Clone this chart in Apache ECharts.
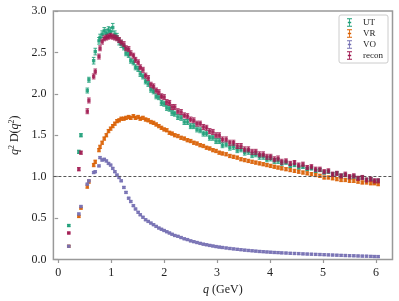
<!DOCTYPE html>
<html><head><meta charset="utf-8">
<script src="https://cdn.jsdelivr.net/npm/echarts@6/dist/echarts.min.js"></script>
<style>html,body{margin:0;padding:0;background:#fff}#c{width:399px;height:301px}</style>
</head><body><div id="c"></div>
<script>
const q = [0.20,0.39,0.43,0.55,0.58,0.67,0.70,0.77,0.79,0.83,0.87,0.91,0.95,0.99,
1.03,1.07,1.11,1.15,1.19,1.24,1.28,1.33,1.37,1.42,1.46,1.51,1.55,
1.60,1.65,1.70,1.75,1.80,1.85,1.90,1.95,2.00,2.05,2.10,2.15,2.20,
2.26,2.32,2.38,2.44,2.50,2.56,2.62,2.68,2.74,2.80,2.86,2.92,2.98,3.04,3.10,
3.17,3.24,3.31,3.38,3.45,3.52,3.59,3.66,3.73,3.80,3.87,3.94,4.01,4.08,4.15,4.22,
4.30,4.38,4.46,4.54,4.62,4.70,4.78,4.86,4.94,5.02,5.10,5.18,5.26,5.34,5.42,5.50,5.58,5.66,5.74,5.82,5.90,
5.97,6.04];

const utVals = [0.41,1.30,1.50,2.04,2.17,2.40,2.51,2.64,2.68,2.72,2.76,2.73,2.77,2.75,
2.80,2.72,2.69,2.63,2.60,2.56,2.49,2.47,2.40,2.38,2.32,2.30,2.24,
2.21,2.15,2.12,2.05,2.03,1.97,1.96,1.89,1.88,1.83,1.82,1.77,1.76,
1.72,1.71,1.66,1.66,1.61,1.61,1.57,1.56,1.52,1.52,1.47,1.47,1.43,1.43,1.38,
1.39,1.35,1.36,1.32,1.33,1.29,1.30,1.26,1.27,1.24,1.24,1.21,1.22,1.19,1.19,1.16,
1.17,1.13,1.14,1.11,1.12,1.09,1.10,1.07,1.08,1.05,1.06,1.03,1.04,1.01,1.02,0.99,1.00,0.98,0.99,0.96,0.97,
0.94,0.95];
const utErr = [0.01,0.02,0.02,0.03,0.03,0.04,0.04,0.04,0.04,0.04,0.04,0.05,0.04,0.05,
0.05,0.04,0.04,0.04,0.04,0.03,0.03,0.03,0.03,0.03,0.03,0.03,0.03,
0.03,0.03,0.03,0.03,0.03,0.03,0.03,0.03,0.03,0.03,0.03,0.03,0.03,
0.03,0.03,0.03,0.03,0.03,0.03,0.03,0.03,0.03,0.03,0.03,0.03,0.03,0.03,0.03,
0.03,0.03,0.03,0.03,0.03,0.03,0.03,0.03,0.03,0.03,0.03,0.03,0.03,0.03,0.03,0.03,
0.02,0.02,0.02,0.02,0.02,0.02,0.02,0.02,0.02,0.02,0.02,0.02,0.02,0.02,0.02,0.02,0.02,0.02,0.02,0.02,0.02,
0.02,0.02];

const vrVals = [0.16,0.52,0.62,0.88,0.94,1.14,1.18,1.32,1.36,1.41,1.46,1.50,1.55,1.58,
1.61,1.64,1.67,1.68,1.70,1.70,1.71,1.72,1.71,1.73,1.71,1.72,1.70,
1.71,1.69,1.68,1.66,1.65,1.63,1.61,1.59,1.57,1.56,1.53,1.52,1.50,
1.49,1.47,1.46,1.44,1.43,1.41,1.40,1.38,1.37,1.35,1.34,1.32,1.31,1.29,1.28,
1.27,1.25,1.24,1.23,1.21,1.20,1.19,1.18,1.17,1.16,1.15,1.14,1.13,1.12,1.11,1.10,
1.09,1.08,1.07,1.06,1.05,1.04,1.03,1.02,1.01,0.99,0.99,0.98,0.97,0.96,0.96,0.95,0.95,0.94,0.93,0.93,0.92,
0.92,0.91];
const vrErr = [0.01,0.01,0.01,0.02,0.02,0.02,0.02,0.02,0.02,0.02,0.02,0.02,0.02,0.02,
0.02,0.02,0.02,0.02,0.02,0.02,0.02,0.02,0.02,0.02,0.02,0.02,0.02,
0.02,0.02,0.02,0.02,0.02,0.02,0.02,0.02,0.02,0.02,0.02,0.02,0.02,
0.02,0.02,0.02,0.02,0.02,0.02,0.02,0.02,0.02,0.02,0.02,0.02,0.02,0.02,0.02,
0.02,0.02,0.02,0.02,0.02,0.02,0.02,0.02,0.02,0.02,0.02,0.02,0.02,0.02,0.02,0.02,
0.02,0.02,0.02,0.02,0.02,0.02,0.02,0.02,0.02,0.02,0.02,0.02,0.02,0.02,0.02,0.02,0.02,0.02,0.02,0.02,0.02,
0.02,0.02];

const voVals = [0.16,0.55,0.64,0.91,0.95,1.05,1.06,1.13,1.23,1.20,1.21,1.19,1.16,1.14,
1.10,1.06,1.02,0.99,0.95,0.87,0.81,0.74,0.70,0.65,0.61,0.57,0.54,
0.51,0.48,0.46,0.44,0.42,0.40,0.38,0.365,0.35,0.335,0.32,0.305,0.29,
0.28,0.265,0.25,0.24,0.225,0.215,0.205,0.195,0.185,0.178,0.170,0.163,0.156,0.150,0.145,
0.139,0.133,0.128,0.123,0.118,0.113,0.109,0.105,0.101,0.097,0.094,0.091,0.088,0.085,0.083,0.080,
0.078,0.075,0.073,0.071,0.068,0.066,0.064,0.062,0.060,0.058,0.056,0.054,0.052,0.050,0.048,0.046,0.045,0.043,0.041,0.040,0.038,
0.036,0.035];
const voErr = [0.01,0.01,0.01,0.01,0.01,0.01,0.01,0.01,0.01,0.01,0.01,0.01,0.01,0.01,
0.01,0.01,0.01,0.01,0.01,0.01,0.01,0.01,0.01,0.01,0.01,0.01,0.01,
0.01,0.01,0.01,0.01,0.01,0.01,0.01,0.01,0.01,0.01,0.01,0.01,0.01,
0.01,0.01,0.01,0.01,0.01,0.01,0.01,0.01,0.01,0.01,0.01,0.01,0.01,0.01,0.01,
0.01,0.01,0.01,0.01,0.01,0.01,0.01,0.01,0.01,0.01,0.01,0.01,0.01,0.01,0.01,0.01,
0.01,0.01,0.01,0.01,0.01,0.01,0.01,0.01,0.01,0.01,0.01,0.01,0.01,0.01,0.01,0.01,0.01,0.01,0.01,0.01,0.01,
0.01,0.01];

const reconVals = [0.32,1.09,1.29,1.79,1.92,2.21,2.27,2.45,2.55,2.63,2.67,2.68,2.69,2.70,
2.69,2.68,2.67,2.65,2.62,2.60,2.55,2.54,2.49,2.46,2.41,2.38,2.32,
2.29,2.22,2.19,2.11,2.09,2.04,2.02,1.97,1.96,1.90,1.89,1.84,1.84,
1.79,1.78,1.74,1.73,1.69,1.68,1.64,1.64,1.60,1.59,1.55,1.54,1.50,1.50,1.45,
1.45,1.41,1.41,1.37,1.37,1.33,1.33,1.30,1.30,1.27,1.27,1.24,1.24,1.21,1.22,1.18,
1.19,1.16,1.17,1.14,1.15,1.11,1.12,1.09,1.09,1.06,1.07,1.03,1.04,1.01,1.03,1.00,1.01,0.98,0.99,0.96,0.97,
0.95,0.95];
const reconErr = [0.01,0.02,0.02,0.03,0.03,0.03,0.03,0.03,0.03,0.03,0.03,0.03,0.03,0.03,
0.03,0.03,0.03,0.03,0.03,0.03,0.03,0.03,0.03,0.03,0.03,0.03,0.03,
0.03,0.03,0.03,0.03,0.03,0.03,0.03,0.03,0.03,0.03,0.03,0.03,0.03,
0.03,0.03,0.03,0.03,0.03,0.03,0.03,0.03,0.03,0.03,0.03,0.03,0.03,0.03,0.03,
0.03,0.03,0.03,0.03,0.03,0.03,0.03,0.03,0.03,0.03,0.03,0.03,0.03,0.03,0.03,0.03,
0.025,0.025,0.025,0.025,0.025,0.025,0.025,0.025,0.025,0.025,0.025,0.025,0.025,0.025,0.025,0.025,0.025,0.025,0.025,0.025,0.025,
0.025,0.025];

const xTicks = [0,1,2,3,4,5,6];
const seriesNames = ['UT','VR','VO','recon'];
const refLine = 1.0;

const colors = ['#1b9e77','#d95f02','#7570b3','#a0174f'];
const FONT = '"Liberation Serif", "DejaVu Serif", serif';
const ibeam = 'path://M0 0h6v1H3.5v3H5v2H3.5v3H6v1H0V9h2.5V6H1V4h1.5V1H0z';

function errSeries(name, ys, errs, color, z) {
  const data = q.map((x, i) => [x, ys[i], errs[i]]);
  return {
    type: 'custom', name, z, data, encode: {x: 0, y: 1},
    itemStyle: {color},
    renderItem(params, api) {
      const x = api.value(0), y = api.value(1), e = api.value(2);
      const p = api.coord([x, y]);
      const lo = api.coord([x, y - e]);
      const hi = api.coord([x, y + e]);
      const cw = 1.8, ms = 3.4;
      const ls = {stroke: color, lineWidth: 1, opacity: 0.85};
      return {type: 'group', children: [
        {type: 'line', shape: {x1: p[0], y1: lo[1], x2: p[0], y2: hi[1]}, style: ls},
        {type: 'line', shape: {x1: p[0]-cw, y1: lo[1], x2: p[0]+cw, y2: lo[1]}, style: ls},
        {type: 'line', shape: {x1: p[0]-cw, y1: hi[1], x2: p[0]+cw, y2: hi[1]}, style: ls},
        {type: 'rect', shape: {x: p[0]-ms/2, y: p[1]-ms/2, width: ms, height: ms}, style: {fill: color, opacity: 0.85}}
      ]};
    }
  };
}

const chart = echarts.init(document.getElementById('c'), null, {renderer: 'canvas'});
chart.setOption({
  animation: false,
  backgroundColor: '#fff',
  grid: {left: 47, top: 11, right: 6.5, bottom: 41.5, show: true, borderColor: '#999', borderWidth: 1.5, containLabel: false},
  xAxis: {
    type: 'value', min: -0.09, max: 6.31,
    axisLine: {show: false},
    splitLine: {show: false},
    axisTick: {show: true, customValues: xTicks, length: 3.5, lineStyle: {color: '#999', width: 1.2}},
    axisLabel: {customValues: xTicks, margin: 7, fontFamily: FONT, fontSize: 12, color: '#222'},
    name: '{i|q} (GeV)', nameLocation: 'middle', nameGap: 21,
    nameTextStyle: {fontFamily: FONT, fontSize: 12, color: '#222', rich: {i: {fontStyle: 'italic', fontFamily: FONT, fontSize: 12, color: '#222'}}}
  },
  yAxis: {
    type: 'value', min: 0, max: 3, interval: 0.5,
    axisLine: {show: false},
    splitLine: {show: false},
    axisTick: {show: true, length: 3.5, lineStyle: {color: '#999', width: 1.2}},
    axisLabel: {margin: 7, fontFamily: FONT, fontSize: 12, color: '#222', formatter: v => v.toFixed(1)},
    name: '{i|q}{s|2}{n| D(}{i|q}{s|2}{n|)}', nameLocation: 'middle', nameGap: 28, nameRotate: 90,
    nameTextStyle: {fontFamily: FONT, fontSize: 12, color: '#222', rich: {
      i: {fontStyle: 'italic', fontFamily: FONT, fontSize: 12, color: '#222'},
      n: {fontFamily: FONT, fontSize: 12, color: '#222'},
      s: {fontFamily: FONT, fontSize: 8, color: '#222', verticalAlign: 'top', padding: [0, 0, 5, 0]}
    }}
  },
  legend: {
    right: 11, top: 15, orient: 'vertical', itemGap: 2, itemWidth: 5, itemHeight: 9,
    padding: [3, 5, 3, 8], borderColor: '#ccc', borderWidth: 1, borderRadius: 2, backgroundColor: '#fff',
    textStyle: {fontFamily: FONT, fontSize: 9, color: '#222', padding: [0, 0, 0, 6]},
    data: seriesNames.map((n) => ({name: n, icon: ibeam}))
  },
  series: [
    errSeries('UT', utVals, utErr, colors[0], 2),
    errSeries('VR', vrVals, vrErr, colors[1], 3),
    errSeries('VO', voVals, voErr, colors[2], 4),
    errSeries('recon', reconVals, reconErr, colors[3], 5),
    {type: 'line', name: 'ref', data: [], silent: true, z: 6,
     markLine: {silent: true, symbol: 'none', label: {show: false},
       lineStyle: {color: '#555', width: 1.1, type: [3, 2]},
       data: [{yAxis: refLine}]}}
  ]
});
</script>
</body></html>
